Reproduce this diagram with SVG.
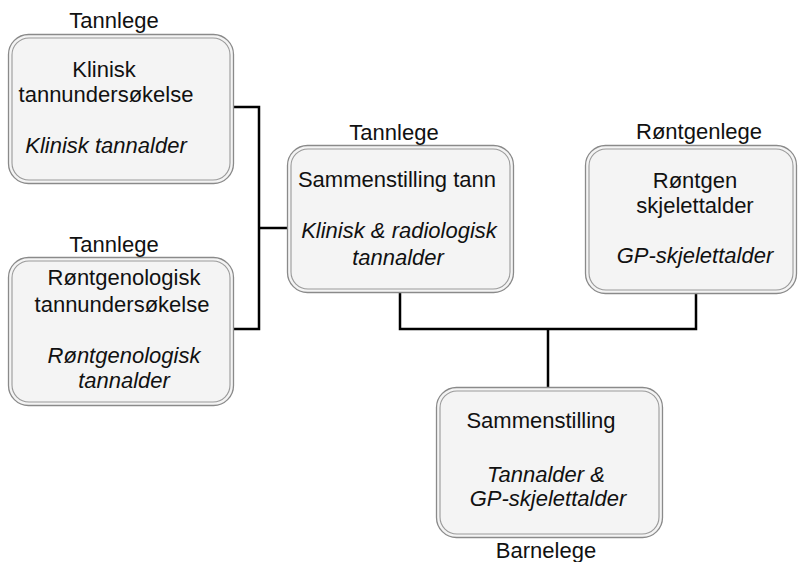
<svg xmlns="http://www.w3.org/2000/svg" width="800" height="562" viewBox="0 0 800 562">
<style>
.o{fill:#f4f4f4;stroke:#8a8a8a;stroke-width:1.3}
.i{fill:none;stroke:#9a9a9a;stroke-width:1.1}
text{font-family:"Liberation Sans",Arial,sans-serif;font-size:22px;fill:#111;text-anchor:middle}
.it{font-style:italic}
.c{fill:none;stroke:#000;stroke-width:2.5}
</style>
<rect width="800" height="562" fill="#fff"/>
<g id="connectors">
<polyline class="c" points="233,107 259,107 259,329 233,329"/>
<line class="c" x1="259" y1="228" x2="287" y2="228"/>
<polyline class="c" points="400,292 400,329 696,329 696,293"/>
<line class="c" x1="548" y1="329" x2="548" y2="387"/>
</g>
<g id="n1">
<rect class="o" x="8.5" y="34.5" width="225" height="149" rx="20"/>
<rect class="i" x="12" y="38" width="218" height="142" rx="17"/>
<text x="114" y="28">Tannlege</text>
<text x="104" y="77">Klinisk</text>
<text x="106" y="102">tannundersøkelse</text>
<text x="106" y="153" class="it">Klinisk tannalder</text>
</g>
<g id="n2">
<rect class="o" x="8.5" y="257.5" width="225" height="148" rx="20"/>
<rect class="i" x="12" y="261" width="218" height="141" rx="17"/>
<text x="114" y="252">Tannlege</text>
<text x="124" y="285">Røntgenologisk</text>
<text x="122" y="312">tannundersøkelse</text>
<text x="124" y="363" class="it">Røntgenologisk</text>
<text x="124" y="388" class="it">tannalder</text>
</g>
<g id="n3">
<rect class="o" x="287.5" y="145.5" width="226" height="147" rx="20"/>
<rect class="i" x="291" y="149" width="219" height="140" rx="17"/>
<text x="394" y="140">Tannlege</text>
<text x="397" y="187">Sammenstilling tann</text>
<text x="399" y="238" class="it">Klinisk &amp; radiologisk</text>
<text x="398" y="265" class="it">tannalder</text>
</g>
<g id="n4">
<rect class="o" x="585.5" y="145.5" width="211" height="148" rx="20"/>
<rect class="i" x="589" y="149" width="204" height="141" rx="17"/>
<text x="699" y="139">Røntgenlege</text>
<text x="695" y="188">Røntgen</text>
<text x="695" y="213">skjelettalder</text>
<text x="695" y="263" class="it">GP-skjelettalder</text>
</g>
<g id="n5">
<rect class="o" x="436.5" y="387.5" width="226" height="150" rx="20"/>
<rect class="i" x="440" y="391" width="219" height="143" rx="17"/>
<text x="541" y="428">Sammenstilling</text>
<text x="546" y="482" class="it">Tannalder &amp;</text>
<text x="548" y="506" class="it">GP-skjelettalder</text>
<text x="546" y="558">Barnelege</text>
</g>
</svg>
